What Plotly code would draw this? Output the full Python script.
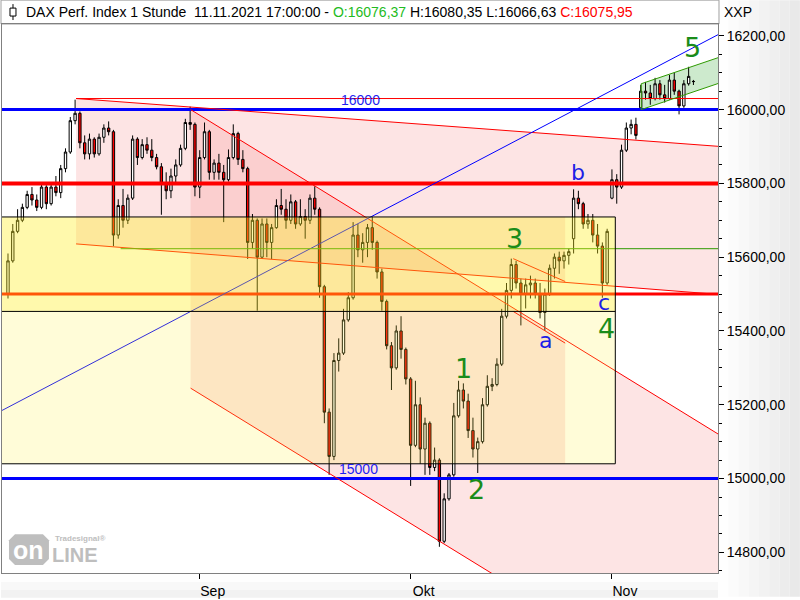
import plotly.graph_objects as go

# ---------------- data: half-day DAX candles ----------------
opens = [15500,15590,15670,15700,15735,15770,15755,15735,15790,15745,
         15790,15775,15840,15885,15970,15990,15910,15880,15920,15880,
         15925,15950,15940,15660,15740,15700,15760,15920,15870,15905,
         15890,15870,15845,15800,15780,15820,15850,15895,15965,15960,
         15790,15870,15940,15830,15855,15830,15810,15870,15935,15865,
         15840,15640,15700,15600,15690,15640,15680,15740,15730,15700,
         15750,15690,15710,15700,15760,15730,15520,15180,15060,15320,
         15340,15430,15490,15660,15620,15640,15680,15640,15560,15480,
         15360,15300,15400,15350,15270,15090,15200,15080,15150,15030,
         15050,14830,14945,15010,15170,15240,15210,15130,15080,15100,
         15200,15250,15255,15310,15440,15510,15580,15530,15500,15525,
         15530,15500,15450,15500,15570,15600,15590,15605,15650,15760,
         15745,15690,15700,15660,15630,15530,15760,15810,15790,15890,
         15950,15960,16005,16050,16045,16030,16070,16040,16030,16080,
         16050,16010,16070,16076.37]
highs = [15610,15690,15730,15745,15780,15790,15770,15800,15795,15800,
         15820,15850,15895,15980,16027,15995,15930,15935,15925,15935,
         15960,15968,15945,15757,15785,15770,15930,15925,15920,15925,
         15920,15880,15855,15830,15840,15865,15905,15975,16008,15965,
         15890,15965,15945,15865,15880,15850,15892,15960,15940,15890,
         15845,15717,15705,15705,15705,15690,15757,15785,15757,15770,
         15755,15757,15730,15770,15792,15735,15525,15190,15340,15380,
         15460,15505,15695,15690,15665,15690,15710,15645,15569,15485,
         15370,15415,15440,15355,15275,15265,15220,15165,15155,15084,
         15055,14960,15015,15205,15265,15258,15230,15165,15111,15218,
         15280,15272,15326,15460,15530,15596,15590,15542,15542,15550,
         15542,15530,15515,15580,15610,15615,15615,15623,15784,15780,
         15750,15717,15717,15690,15640,15677,15838,15825,15905,15965,
         15973,15978,16067,16075,16067,16086,16080,16067,16094,16100,
         16054,16080,16116,16080.35]
lows = [15488,15585,15665,15695,15730,15740,15725,15730,15730,15740,
        15765,15760,15830,15880,15960,15895,15865,15865,15870,15875,
        15910,15930,15630,15650,15680,15690,15755,15850,15865,15880,
        15860,15838,15715,15757,15760,15800,15845,15890,15945,15765,
        15760,15865,15810,15810,15810,15695,15805,15865,15850,15830,
        15595,15623,15455,15595,15600,15595,15677,15715,15677,15690,
        15677,15685,15650,15690,15715,15490,15150,15010,15050,15290,
        15335,15425,15485,15600,15585,15600,15620,15542,15455,15350,
        15240,15295,15325,15255,14980,15085,15040,15010,15010,15020,
        14815,14825,14940,15005,15165,15190,15110,15057,15015,15095,
        15195,15237,15250,15305,15434,15488,15515,15415,15461,15488,
        15488,15434,15400,15495,15542,15555,15569,15580,15610,15730,
        15677,15677,15640,15610,15490,15525,15757,15745,15785,15885,
        15933,15919,16000,16027,16013,16025,16027,16019,16027,16040,
        15987,16005,16065,16066.63]
closes = [15590,15670,15700,15735,15770,15755,15735,15790,15745,15790,
          15775,15840,15885,15970,15990,15910,15880,15920,15880,15925,
          15950,15940,15660,15740,15700,15760,15920,15870,15905,15890,
          15870,15845,15800,15780,15820,15850,15895,15965,15960,15790,
          15870,15940,15830,15855,15830,15810,15870,15935,15865,15840,
          15640,15700,15600,15690,15640,15680,15740,15730,15700,15750,
          15690,15710,15700,15760,15730,15520,15180,15060,15320,15340,
          15430,15490,15660,15620,15640,15680,15640,15560,15480,15360,
          15300,15400,15350,15270,15090,15200,15080,15150,15030,15050,
          14830,14945,15010,15170,15240,15210,15130,15080,15100,15200,
          15250,15255,15310,15440,15510,15580,15530,15500,15525,15530,
          15500,15450,15500,15570,15600,15590,15605,15615,15760,15745,
          15690,15700,15660,15630,15530,15670,15810,15790,15890,15950,
          15960,15930,16050,16045,16030,16070,16040,16030,16080,16050,
          16010,16070,16090,16075.95]
bar_index = list(range(len(closes)))

month_ticks = [40, 84, 126]
month_labels = ["Sep", "Okt", "Nov"]
price_ticks = [14800, 15000, 15200, 15400, 15600, 15800, 16000, 16200]

wave_labels = ["1", "2", "3", "4", "5"]
wave_x = [95.0, 97.7, 105.6, 124.8, 142.7]
wave_y = [15297, 14970, 15650, 15408, 16167]
abc_labels = ["a", "b", "c"]
abc_x = [112.1, 119.0, 124.4]
abc_y = [15375, 15830, 15476]

# ---------------- layout geometry ----------------
XL, XR = -1.25, 148.125
YB, YT = 14744, 16232
EL, ER = -5, 160
PX_L, PX_R, PY_T, PY_B = 1, 718, 24, 576


def pxx(px):
    return (px - PX_L) / (PX_R - PX_L)


def pxy(py):
    return (PY_B - py) / (PY_B - PY_T)


shapes = []


def seg(x0, y0, x1, y1, color, width=1, layer="above", ref="x"):
    shapes.append(dict(type="line", xref=ref, yref=("y" if ref == "x" else "paper"),
                       x0=x0, y0=y0, x1=x1, y1=y1,
                       line=dict(color=color, width=width), layer=layer))


def poly(pts, fill, layer="below", line=None):
    path = "M " + " L ".join(f"{a},{b}" for a, b in pts) + " Z"
    shapes.append(dict(type="path", xref="x", yref="y", path=path, fillcolor=fill,
                       line=line or dict(width=0), layer=layer))


def prect(x0, y0, x1, y1, fill, line=None, layer="below"):
    shapes.append(dict(type="rect", xref="paper", yref="paper", x0=x0, y0=y0, x1=x1, y1=y1,
                       fillcolor=fill, line=line or dict(width=0), layer=layer))


# background panels (right axis area + bottom) with soft gradient
grad = ["#FEFEFE", "#FBFBFB", "#F8F8F8", "#F5F5F5", "#F2F2F2", "#EFEFEF", "#ECECEC", "#E9E9E9"]
for k, c in enumerate(grad):
    prect(pxx(718 + k * 10.25), pxy(600), pxx(718 + (k + 1) * 10.25), pxy(0), c)
for k, c in enumerate(["#FEFEFE", "#F8F8F8", "#F2F2F2"]):
    prect(pxx(0), pxy(577 + k * 8), pxx(718), pxy(577 + (k + 1) * 8), c)
prect(pxx(0), pxy(24), pxx(719), pxy(0), "white", line=dict(color="#A0A0A0", width=1))
# small candle icon in header
seg(pxx(12), pxy(4), pxx(12), pxy(20), "black", 1, ref="paper")
prect(pxx(9), pxy(16), pxx(15), pxy(8), "white", line=dict(color="black", width=1), layer="above")

PINK = "rgba(245,140,140,0.235)"
# wide falling channel (B)
poly([(14.2, 16030), (ER, 15889), (ER, 15487), (14.2, 15636)], PINK)
# steep falling channel (A)
poly([(38.1, 16000), (ER, 15026), (ER, 14271), (38.1, 15245)], PINK)
# un-shaded part inside the yellow box
shapes.append(dict(type="rect", xref="x", yref="y", x0=116.25, x1=126.7, y0=15040, y1=15709,
                   fillcolor="white", line=dict(width=0), layer="below"))
# green rising mini channel
poly([(132.1, 16070), (ER, 16193), (ER, 16123), (132.1, 16000)], "rgba(90,185,90,0.3)")

# lines (above candles, below the yellow veil)
seg(EL, 16000, ER, 16000, "#0000FF", 3)
seg(EL, 15000, ER, 15000, "#0000FF", 3)
seg(EL, 15800, ER, 15800, "#FF0000", 4)
seg(EL, 15500, ER, 15500, "#FF0000", 3)
seg(14.2, 16030, ER, 16030, "#FF0000", 1)
seg(14.2, 16030, ER, 15889, "#FF0000", 1)
seg(14.2, 15636, ER, 15487, "#FF0000", 1)
seg(38.1, 16000, ER, 15026, "#FF0000", 1)
seg(38.1, 15245, ER, 14271, "#FF0000", 1)
seg(105.4, 15596, 116.25, 15534, "#FF0000", 1)
seg(105.4, 15453, 116.25, 15367, "#FF0000", 1)
seg(EL, 15159, ER, 16284, "#0000FF", 1)
seg(23.5, 15623, ER, 15623, "#2E9A00", 1)
seg(132.1, 16070, ER, 16193, "#2E9A00", 1)
seg(132.1, 16000, ER, 16123, "#2E9A00", 1)
seg(132.1, 16000, 132.1, 16070, "#2E9A00", 1)

# yellow boxes (translucent veil above the candles)
shapes.append(dict(type="rect", xref="x", yref="y", x0=EL, x1=126.7, y0=15040, y1=15709,
                   fillcolor="rgba(255,240,60,0.2)", line=dict(width=0), layer="above"))
shapes.append(dict(type="rect", xref="x", yref="y", x0=EL, x1=126.7, y0=15453, y1=15709,
                   fillcolor="rgba(255,240,0,0.2)", line=dict(width=0), layer="above"))
seg(EL, 15709, 126.7, 15709, "black", 1)
seg(EL, 15453, 126.7, 15453, "black", 1)
seg(EL, 15040, 126.7, 15040, "black", 1)
seg(126.7, 15040, 126.7, 15709, "black", 1)

# logo block
shapes.append(dict(type="path", xref="paper", yref="paper",
                   path=(f"M {pxx(14)},{pxy(537)} L {pxx(42)},{pxy(537)} L {pxx(48)},{pxy(543)} "
                         f"L {pxx(48)},{pxy(562)} L {pxx(42)},{pxy(568)} L {pxx(14)},{pxy(568)} "
                         f"L {pxx(8)},{pxy(562)} L {pxx(8)},{pxy(543)} Z"),
                   fillcolor="#BEBEBE", line=dict(width=0), layer="above"))

fig = go.Figure()
fig.add_trace(go.Candlestick(
    x=bar_index, open=opens, high=highs, low=lows, close=closes,
    increasing=dict(line=dict(color="black", width=1), fillcolor="white"),
    decreasing=dict(line=dict(color="black", width=1), fillcolor="#FF0000"),
    whiskerwidth=0, hoverinfo="skip", showlegend=False))


def fmt(v):
    return f"{v:.2f}".replace(".", ",")


header = (f"DAX Perf. Index 1 Stunde  11.11.2021 17:00:00 - "
          f"<span style='color:#22BB22'>O:{fmt(opens[-1])}</span> "
          f"H:{fmt(highs[-1])} L:{fmt(lows[-1])} "
          f"<span style='color:#FF0000'>C:{fmt(closes[-1])}</span>")


def ptext(px, py, text, size, color, family="Liberation Sans", xanchor="left"):
    return dict(xref="paper", yref="paper", x=pxx(px), y=pxy(py), xanchor=xanchor,
                yanchor="middle", text=text, showarrow=False,
                font=dict(family=family, size=size, color=color))


annotations = [
    ptext(23, 12, header, 14, "black"),
    ptext(722, 12, "XXP", 14, "black"),
    ptext(28, 553, "<b>on</b>", 25, "white", xanchor="center"),
    ptext(49, 558, "<b>LINE</b>", 20, "#BEBEBE"),
    ptext(52, 541, "<b>Tradesignal®</b>", 8, "#BEBEBE"),
    dict(xref="x", yref="y", x=73.5, y=16026, text="16000", showarrow=False,
         xanchor="center", yanchor="middle",
         font=dict(family="Liberation Sans", size=14, color="#1E1EF0")),
    dict(xref="x", yref="y", x=73.1, y=15026, text="15000", showarrow=False,
         xanchor="center", yanchor="middle",
         font=dict(family="Liberation Sans", size=14, color="#1E1EF0")),
]
for t, x, y in zip(wave_labels, wave_x, wave_y):
    annotations.append(dict(xref="x", yref="y", x=x, y=y, text=t, showarrow=False,
                            xanchor="center", yanchor="middle",
                            font=dict(family="DejaVu Sans", size=27, color="#1A8C1A")))
for t, x, y in zip(abc_labels, abc_x, abc_y):
    annotations.append(dict(xref="x", yref="y", x=x, y=y, text=t, showarrow=False,
                            xanchor="center", yanchor="middle",
                            font=dict(family="DejaVu Sans", size=22, color="#1E1EE6")))

fig.update_layout(
    width=800, height=600, margin=dict(l=1, r=82, t=24, b=24, pad=0),
    paper_bgcolor="white", plot_bgcolor="white", separators=",.", showlegend=False,
    shapes=shapes, annotations=annotations,
    xaxis=dict(range=[XL, XR], rangeslider=dict(visible=False), tickvals=month_ticks,
               ticktext=month_labels, ticks="outside", ticklen=5, tickcolor="black",
               showgrid=False, zeroline=False, showline=True, linecolor="#808080", mirror=True,
               ticklabelshift=13,
               tickfont=dict(family="Liberation Sans", size=14, color="black")),
    yaxis=dict(side="right", range=[YB, YT], tickvals=price_ticks, tickformat=".2f",
               ticks="outside", ticklen=5, tickcolor="black",
               minor=dict(dtick=50, tick0=14800, ticks="outside", ticklen=3, tickcolor="black"),
               showgrid=False, zeroline=False, showline=True, linecolor="#808080", mirror=True,
               tickfont=dict(family="Liberation Sans", size=14, color="black")),
)

fig.write_html("out.html", config={"displayModeBar": False},
               post_script="document.body.style.margin='0';document.body.style.overflow='hidden';")
